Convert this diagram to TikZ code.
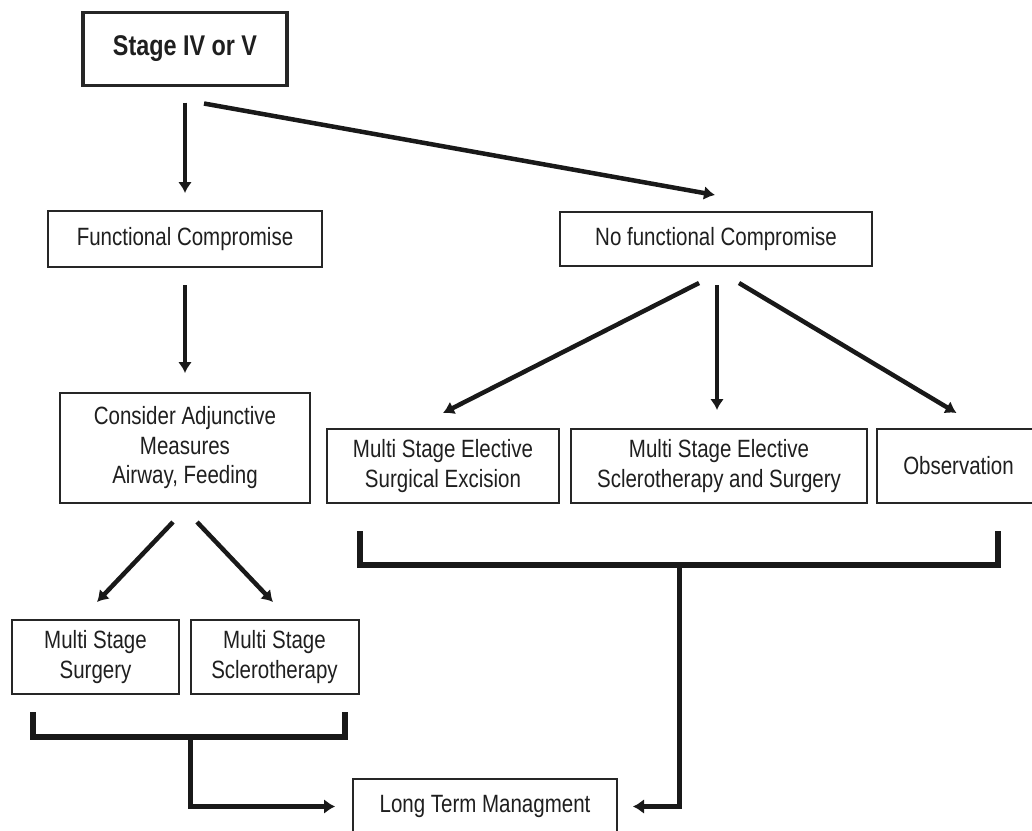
\documentclass[tikz,border=0pt]{standalone}
\usepackage{fontspec}
\setmainfont{Liberation Sans}[FakeStretch=0.82]
\usetikzlibrary{arrows.meta,calc}

\tikzset{
  box/.style={draw=black!85, line width=2pt, fill=white, inner sep=0pt, outer sep=0pt,
    align=center, text=black!88, font=\fontsize{25}{29.5}\selectfont},
  headbox/.style={box, line width=3.5pt, font=\fontsize{28.5}{32}\selectfont\bfseries},
  arr/.style={line width=4.5pt, draw=black!90, -{Latex[length=11pt,width=14pt]}},
  brk/.style={line width=5.5pt, draw=black!90, line cap=butt, line join=miter},
  arrb/.style={line width=5pt, draw=black!90, -{Latex[length=11pt,width=15pt]}},
}

\begin{document}
\begin{tikzpicture}[x=1pt,y=-1pt]
  \useasboundingbox (0,0) rectangle (1032,830);
  \fill[white] (0,0) rectangle (1032,830);
  \clip (0,0) rectangle (1032,830);

  % boxes
  \node[headbox, minimum width=204pt, minimum height=73pt] (stage) at (185,49) {Stage IV or V};
  \node[box, minimum width=274pt, minimum height=56pt] (fc) at (185,239) {Functional Compromise};
  \node[box, minimum width=312pt, minimum height=54pt] (nfc) at (716,239) {No functional Compromise};
  \node[box, minimum width=250pt, minimum height=110pt] (cons) at (185,448)
    {Consider Adjunctive\\Measures\\Airway, Feeding};
  \node[box, minimum width=232pt, minimum height=74pt] (mse) at (443,466)
    {Multi Stage Elective\\Surgical Excision};
  \node[box, minimum width=296pt, minimum height=74pt] (mss) at (719,466)
    {Multi Stage Elective\\Sclerotherapy and Surgery};
  \node[box, minimum width=163pt, minimum height=74pt] (obs) at (958.5,466) {Observation};
  \node[box, minimum width=167pt, minimum height=74pt] (ms1) at (95.5,657)
    {Multi Stage\\Surgery};
  \node[box, minimum width=168pt, minimum height=74pt] (ms2) at (274.5,657)
    {Multi Stage\\Sclerotherapy};
  \node[box, minimum width=264pt, minimum height=55pt] (ltm) at (485,806.5) {Long Term Managment};

  % arrows from the stage box
  \draw[arr] ($(stage.south)+(0,17)$) -- ($(fc.north)+(0,-18)$);
  \draw[arr] ($(stage.south)+(19,18)$) -- ($(nfc.north)+(-1,-17)$);

  % left branch
  \draw[arr] ($(fc.south)+(0,18)$) -- ($(cons.north)+(0,-20)$);
  \draw[arr] ($(cons.south)+(-12,19)$) -- ($(ms1.north)+(1.5,-18)$);
  \draw[arr] ($(cons.south)+(12,19)$) -- ($(ms2.north)+(-1.5,-18)$);

  % right branch
  \draw[arr] ($(nfc.south)+(-17,17)$) -- ($(mse.north)+(0,-16)$);
  \draw[arr] ($(nfc.south)+(1,19)$) -- ($(mss.north)+(-2,-19)$);
  \draw[arr] ($(nfc.south)+(23,17)$) -- ($(obs.north)+(-2,-16)$);

  % brackets gathering the treatments
  \draw[brk] ($(ms1.south)+(-62.5,18)$) |- ($(ms2.south)+(70.5,43)$) -- ($(ms2.south)+(70.5,18)$);
  \coordinate (lj) at (190,737);
  \draw[brk] ($(mse.south)+(-83,28)$) |- ($(obs.south)+(39.5,62)$) -- ($(obs.south)+(39.5,28)$);
  \coordinate (rj) at (679,565);

  % into long term management
  \draw[arrb, shorten >=18pt] (lj) |- (ltm.west);
  \draw[arrb, shorten >=16pt] (rj) |- (ltm.east);
\end{tikzpicture}
\end{document}
